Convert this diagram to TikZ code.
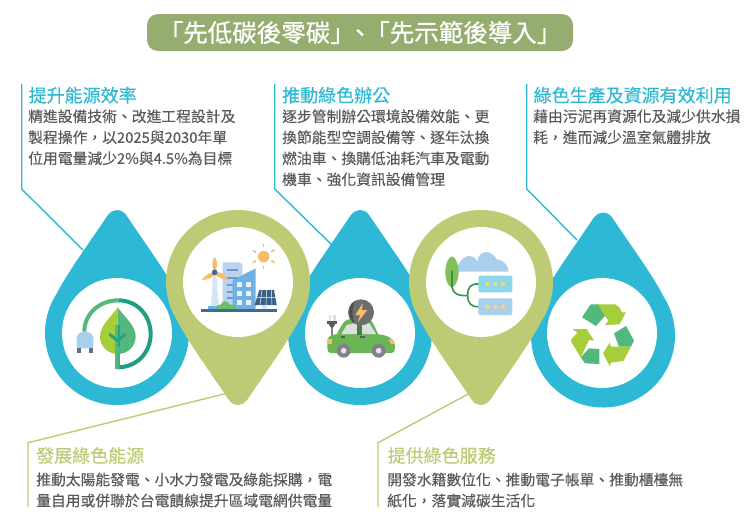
\documentclass[tikz,border=0pt]{standalone}
\usepackage{fontspec}
\setmainfont{Noto Sans CJK TC}
\newfontfamily\bodyfont[FakeBold=0.15]{Noto Sans CJK TC}
\newfontfamily\headfont[FakeBold=0.4]{Noto Sans CJK TC}
\newfontfamily\titlefont[FakeBold=0.7]{Noto Sans CJK TC}
\definecolor{teal1}{HTML}{2DB9D6}
\definecolor{olive1}{HTML}{BECB74}
\definecolor{titlebg}{HTML}{95AD6F}
\definecolor{bodyc}{HTML}{58595B}
\definecolor{leafg}{HTML}{52B87C}
\definecolor{lime1}{HTML}{A6CE39}
\definecolor{deepg}{HTML}{1E9E83}
\definecolor{sunc}{HTML}{F9BC66}
\definecolor{blued}{HTML}{3E6A96}
\definecolor{bluem}{HTML}{6FB1E4}
\definecolor{bluel}{HTML}{BBD3EE}
\definecolor{cloudc}{HTML}{A8CFEE}
\definecolor{carg}{HTML}{6AB554}
\definecolor{grayc}{HTML}{808285}
\definecolor{stemg}{HTML}{3C8F4A}
\definecolor{dotc}{HTML}{F9D66A}
\tikzset{
  heading/.style={anchor=west,inner sep=0pt,font=\headfont\fontsize{18}{20}\selectfont},
  bodytext/.style={anchor=north west,inner sep=0pt,align=left,text=bodyc,font=\bodyfont\fontsize{14.8}{21}\selectfont},
  disc/.style={circle,fill=white,inner sep=0pt,minimum size=110pt},
  leaderb/.style={draw=teal1,line width=1.4pt},
  leadero/.style={draw=olive1,line width=1.4pt},
  zoomgrid/.style={x=0.33333pt,y=-0.33333pt}
}
\newcommand{\dropshape}[4]{%
  \begin{scope}[shift={(#1,#2)},y=1pt,rotate=#4]
    \fill[#3] (147:72pt) arc[start angle=147,end angle=393,radius=72pt]
      .. controls (50,60) and (25,94) .. (9.23,117.89)
      arc[start angle=33,end angle=147,radius=11pt]
      .. controls (-25,94) and (-50,60) .. (147:72pt) -- cycle;
  \end{scope}}
\begin{document}
\begin{tikzpicture}[x=1pt,y=-1pt]
\useasboundingbox (0,0) rectangle (751,523);
\fill[white] (0,0) rectangle (751,523);

% title
\node[fill=titlebg,rounded corners=11pt,minimum width=426pt,minimum height=37pt,inner sep=0pt,text=white,font=\titlefont\fontsize{24.5}{26}\selectfont] (title) at (360,32.5) {「先低碳後零碳」\kern-7pt、\kern-7pt「先示範後導入」};

% leaders
\coordinate (a1) at (21.7,84); \coordinate (a2) at (21.7,189); \coordinate (a3) at (83,250);
\coordinate (b1) at (274.7,84); \coordinate (b2) at (274.7,189); \coordinate (b3) at (332,245);
\coordinate (c1) at (526.7,84); \coordinate (c2) at (526.7,189); \coordinate (c3) at (577,240);
\coordinate (d1) at (28,507); \coordinate (d2) at (28,442.7); \coordinate (d3) at (228,393);
\coordinate (e1) at (378,507); \coordinate (e2) at (378,442.7); \coordinate (e3) at (470,393);
\draw[leaderb] (a1) -- (a2) -- (a3);
\draw[leaderb] (b1) -- (b2) -- (b3);
\draw[leaderb] (c1) -- (c2) -- (c3);
\draw[leadero] (d1) -- (d2) -- (d3);
\draw[leadero] (e1) -- (e2) -- (e3);

% drops and pins
\dropshape{117}{333}{teal1}{0}
\dropshape{360}{333}{teal1}{0}
\dropshape{603}{335.5}{teal1}{0}
\dropshape{238}{282}{olive1}{180}
\dropshape{481}{282}{olive1}{180}
\node[disc] (w1) at (117,333) {};
\node[disc] (w2) at (238,282) {};
\node[disc] (w3) at (360,333) {};
\node[disc] (w4) at (481,282) {};
\node[disc] (w5) at (602,333) {};

% icon 1: plug and leaf
\begin{scope}[shift={(50,200)},zoomgrid]
  \draw[leafg,line width=4pt] (103,395) .. controls (103,340) and (150,301) .. (205,301);
  \draw[deepg,line width=4pt] (205,301) .. controls (260,301) and (302,345) .. (302,402) .. controls (302,458) and (260,502) .. (203,502);
  \fill[lime1] (203,322) .. controls (185,350) and (150,375) .. (150,410) .. controls (150,440) and (175,462) .. (203,462) -- cycle;
  \fill[leafg] (203,322) .. controls (222,350) and (257,375) .. (257,410) .. controls (257,440) and (232,462) .. (203,462) -- cycle;
  \fill[leafg] (196,375) rectangle (203,508);
  \fill[deepg!80!leafg] (203,375) rectangle (210,440);
  \fill[leafg!70!deepg] (203,462) rectangle (210,508);
  \draw[deepg!80!leafg,line width=3pt] (178,402) -- (203,422) -- (226,402);
  \fill[cloudc] (80,445) -- (80,415) .. controls (80,402) and (92,395) .. (104,395) .. controls (118,395) and (130,402) .. (130,415) -- (130,445) -- cycle;
  \fill[blued!60!gray] (80,445) rectangle (93,458);
  \fill[blued!60!gray] (116,445) rectangle (129,458);
\end{scope}

% icon 2: city
\begin{scope}[shift={(50,200)},zoomgrid]
  \fill[sunc] (641,170) circle[radius=5.8pt];
  \foreach \a/\b/\c/\d in {641/132/641/142,641/198/641/207,609/152/618/157,664/155/674/150,608/188/618/182,664/182/674/188}
    \draw[sunc,line width=1.6pt] (\a,\b) -- (\c,\d);
  \fill[bluel!60!white] (489,225) -- (499,225) -- (507,325) -- (483,325) -- cycle;
  \fill[bluem] (475,318) rectangle (505,328);
  \fill[bluel] (518,187) -- (567,187) -- (577,192) -- (577,320) -- (518,320) -- cycle;
  \foreach \y in {208,232,252,272,292}
    \fill[bluem!70!blued] (530,\y) rectangle (563,\y+6);
  \fill[bluem] (548,240) -- (617,205) -- (617,328) -- (548,328) -- cycle;
  \foreach \x in {561,588} \foreach \y in {245,272,299}
    \fill[white!85!bluem] (\x,\y) rectangle (\x+15,\y+15);
  \fill[blued!90!black] (628,270) -- (672,270) -- (680,315) -- (614,315) -- cycle;
  \draw[white,line width=.5pt] (650,270) -- (648,315) (621,292) -- (677,292) (636,270) -- (630,315) (664,270) -- (666,315);
  \fill[bluel!60!white] (636,315) rectangle (652,328);
  \fill[leafg!70!lime1] (498,328) .. controls (498,315) and (508,312) .. (512,314) .. controls (518,300) and (532,300) .. (538,314) .. controls (550,312) and (560,318) .. (562,328) -- cycle;
  \fill[blued] (452,328) rectangle (680,335);
  \fill[sunc] (494,170) .. controls (504,185) and (502,200) .. (497,210) -- (491,210) .. controls (486,200) and (484,185) .. (494,170) -- cycle;
  \fill[sunc] (455,240) .. controls (465,225) and (478,220) .. (488,218) -- (492,226) .. controls (482,235) and (470,240) .. (455,240) -- cycle;
  \fill[sunc] (535,238) .. controls (525,240) and (510,235) .. (497,226) -- (502,216) .. controls (515,218) and (528,226) .. (535,238) -- cycle;
  \fill[blued] (494,217) circle[radius=2.8pt];
\end{scope}

% icon 3: car
\begin{scope}[shift={(280,200)},zoomgrid]
  \fill[grayc] (152,375) rectangle (159,412);
  \fill[grayc!70!black] (142,362) rectangle (170,372);
  \fill[grayc!70!black] (146,372) -- (166,372) -- (160,382) -- (152,382) -- cycle;
  \fill[bluel!70!white] (146,345) rectangle (153,362);
  \fill[bluel!70!white] (160,345) rectangle (167,362);
  \fill[carg] (142,420) .. controls (145,405) and (165,403) .. (170,403) .. controls (180,385) and (190,360) .. (205,358) -- (270,358) .. controls (280,365) and (290,395) .. (295,403) .. controls (320,405) and (345,415) .. (345,440) .. controls (345,455) and (340,459) .. (335,459) -- (155,459) .. controls (145,459) and (142,452) .. (142,445) -- cycle;
  \fill[bluel!40!gray!35!white] (184,402) -- (200,375) -- (232,368) -- (232,402) -- cycle;
  \fill[bluel!40!gray!35!white] (245,368) -- (268,370) -- (288,402) -- (245,402) -- cycle;
  \fill[grayc!70!black] (182,408) rectangle (196,414);
  \fill[grayc!70!black] (240,408) rectangle (254,414);
  \fill[sunc] (142,418) -- (155,418) -- (155,432) -- (142,432) -- cycle;
  \fill[sunc] (325,418) -- (340,418) -- (345,432) -- (333,432) -- cycle;
  \foreach \x in {191,296} {
    \fill[grayc] (\x,452) circle[radius=7pt];
    \fill[white!80!grayc] (\x,452) circle[radius=2.8pt];
  }
  \fill[carg!70!black] (232,360) rectangle (245,405);
  \fill[grayc!85!black] (243,337) circle[radius=13pt];
  \fill[grayc!60!black] (225,303) .. controls (205,312) and (200,360) .. (225,371) .. controls (215,350) and (215,320) .. (225,303) -- cycle;
  \fill[sunc] (248,310) -- (226,345) -- (240,345) -- (234,366) -- (262,330) -- (246,330) -- cycle;
\end{scope}

% icon 4: cloud and servers
\begin{scope}[shift={(280,200)},zoomgrid]
  \fill[cloudc] (530,215) .. controls (532,195) and (540,175) .. (565,168) .. controls (580,168) and (590,175) .. (592,187) .. controls (590,160) and (625,138) .. (650,178) .. controls (675,180) and (685,200) .. (685,215) -- cycle;
  \fill[leafg!40!lime1!90!gray] (516,169) .. controls (530,172) and (536,200) .. (536,215) .. controls (536,240) and (525,262) .. (516,262) .. controls (505,262) and (496,240) .. (496,215) .. controls (496,195) and (503,172) .. (516,169) -- cycle;
  \draw[stemg,line width=1.6pt,line cap=round] (516,213) -- (516,262) .. controls (518,280) and (535,288) .. (562,287);
  \draw[stemg,line width=1.6pt] (597,252) .. controls (572,250) and (563,262) .. (563,285) .. controls (563,308) and (572,322) .. (597,320);
  \fill[teal1!55!white,rounded corners=2pt] (595,227) rectangle (697,277);
  \fill[cloudc,rounded corners=2pt] (595,295) rectangle (697,345);
  \foreach \x in {622,646,669} \foreach \y in {252,320}
    \fill[dotc] (\x,\y) circle[radius=2.2pt];
\end{scope}

% icon 5: recycle
\begin{scope}[shift={(520,200)},zoomgrid]
  \fill[leafg] (212,313) -- (237,313) -- (255,347) -- (228,378) -- (186,352) -- cycle;
  \fill[lime1] (233,313) -- (285,313) -- (298,322) -- (306,337) -- (318,337) -- (298,373) -- (255,375) -- (265,362) -- (250,340) -- cycle;
  \fill[leafg] (318,378) -- (342,422) -- (333,440) -- (297,440) -- (282,400) -- cycle;
  \fill[lime1] (333,440) -- (310,483) -- (272,488) -- (270,500) -- (249,460) -- (270,427) -- (272,440) -- cycle;
  \fill[lime1] (157,387) -- (200,387) -- (222,422) -- (207,420) -- (182,472) -- (155,428) -- (153,420) -- (172,398) -- cycle;
  \fill[leafg] (207,445) -- (238,447) -- (238,492) -- (195,490) -- (182,472) -- cycle;
\end{scope}

% texts
\node[heading,text=teal1] (h1) at (28.5,95.2) {提升能源效率};
\node[bodytext] (t1) at (28,109.2) {精進設備技術、改進工程設計及\\製程操作，以2025與2030年單\\位用電量減少2\%與4.5\%為目標};
\node[heading,text=teal1] (h2) at (282,95.2) {推動綠色辦公};
\node[bodytext] (t2) at (282,109.2) {逐步管制辦公環境設備效能、更\\換節能型空調設備等、逐年汰換\\燃油車、換購低油耗汽車及電動\\機車、強化資訊設備管理};
\node[heading,text=teal1] (h3) at (533.5,95.2) {綠色生產及資源有效利用};
\node[bodytext] (t3) at (533,109.2) {藉由污泥再資源化及減少供水損\\耗，進而減少溫室氣體排放};
\node[heading,text=olive1] (h4) at (36,455.5) {發展綠色能源};
\node[bodytext] (t4) at (36,472.5) {推動太陽能發電、小水力發電及綠能採購，電\\量自用或併聯於台電饋線提升區域電網供電量};
\node[heading,text=olive1] (h5) at (387.5,455.5) {提供綠色服務};
\node[bodytext] (t5) at (387,472.5) {開發水籍數位化、推動電子帳單、推動櫃檯無\\紙化，落實減碳生活化};
\end{tikzpicture}
\end{document}
